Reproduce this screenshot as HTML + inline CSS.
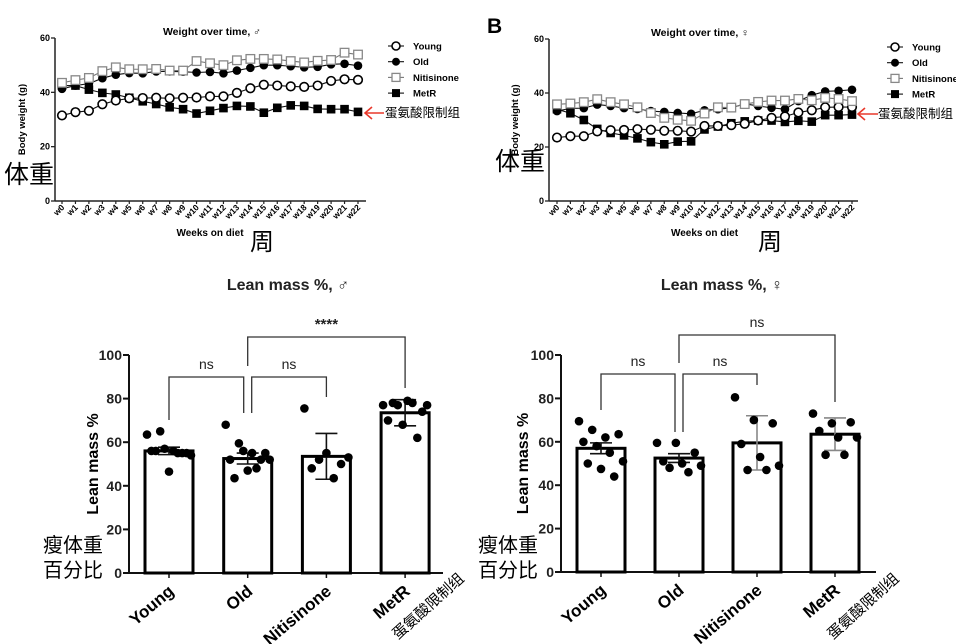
<!DOCTYPE html>
<html><head><meta charset="utf-8">
<style>
html,body{margin:0;padding:0;background:#fff;}
svg{display:block;font-family:"Liberation Sans","Noto Sans CJK SC",sans-serif;}
.b{font-weight:bold;}
</style></head>
<body>
<svg id="fig" width="956" height="644" viewBox="0 0 956 644" xmlns="http://www.w3.org/2000/svg">
<text x="487" y="33" font-size="21" class="b">B</text>
</svg>
<script>
const weeks = ["w0","w1","w2","w3","w4","w5","w6","w7","w8","w9","w10","w11","w12","w13","w14","w15","w16","w17","w18","w19","w20","w21","w22"];
const groups = ["Young","Old","Nitisinone","MetR"];
const yTicksW = [0,20,40,60];
const yTicksL = [0,20,40,60,80,100];
const mYoung = [31.5,32.7,33.2,35.6,37,37.8,37.9,38,37.8,38,38.1,38.5,38.5,39.8,41.5,42.8,42.5,42.2,42,42.5,44.2,44.8,44.6];
const mOld = [41.3,42.5,43.2,45.2,46.5,47.1,47,47.7,47.7,47.6,47.3,47.5,47,48,49,50,50,49.6,49.2,49.4,50.3,50.5,49.8];
const mNit = [43.5,44.5,45.3,47.8,49.2,48.5,48.5,48.6,48,48,51.5,50.7,50,51.8,52.3,52.3,52.1,51.5,51,51.6,51.9,54.6,53.9];
const mMetR = [42.5,42.5,41,39.8,39.2,38,36.7,35.7,34.5,33.8,32.2,33.2,34.2,35,34.8,32.5,34.3,35.2,35,33.9,33.8,33.8,32.8];
const fYoung = [23.5,24,24,25.8,26.2,26.3,26.6,26.4,26,26,25.7,27.8,27.8,28.1,28.6,29.8,30.8,31.3,32.8,33.6,34.7,34.8,34.8];
const fOld = [33.3,34.3,34.4,35.7,35.2,34.4,34.1,33.3,33,32.6,32.3,33.6,34,34.5,36,35.2,34.5,34,37,39.2,40.6,40.8,41.2];
const fNit = [35.8,36.1,36.6,37.7,36.6,35.8,34.7,32.6,30.8,30.1,29.7,32.4,34.7,34.6,35.9,36.7,37.2,37.2,37.8,37.3,38.2,37.8,37];
const fMetR = [34,32.5,30,26.7,25.2,24.3,23.2,21.8,21,22,22.1,26.5,27.6,28.8,29.5,29.8,29.8,29.3,29.7,29.4,31.8,31.8,32];
const mLeanMean = [56,52.5,53.5,73.5];
const mLeanErr = [1.7,2.5,10.5,6];
const fLeanMean = [57,52.5,59.5,63.5];
const fLeanErr = [2.5,2,12.5,7.5];
const mLeanPts = [[63.5,65,56,55,56,57,55,54,56,46.5,55],[68,59.5,55,55,52,56,48,52,43.5,47,52],[75.5,55,53,52,50,48,43.5],[77,77,78,77,78,79,74,70,68,62]];
const fLeanPts = [[69.5,65.5,62,63.5,60,58,55,51,50,47.5,44],[59.5,59.5,55,51,50,49,48,46],[80.5,70,68.5,59,53,49,47,47],[73,68.5,69,65,62,62,54,54]];

const NS="http://www.w3.org/2000/svg";
const svg=document.getElementById('fig');
function el(tag,attrs,parent){const e=document.createElementNS(NS,tag);for(const k in attrs)e.setAttribute(k,attrs[k]);(parent||svg).appendChild(e);return e;}
function txt(s,attrs,parent){const e=el('text',attrs,parent);e.textContent=s;return e;}

function marker(g,kind,x,y,r){
  let m;
  if(kind===0){m=el('circle',{cx:x,cy:y,r:r,fill:'#fff',stroke:'#000','stroke-width':1.6},g);}
  else if(kind===1){m=el('circle',{cx:x,cy:y,r:r,fill:'#000'},g);}
  else if(kind===2){m=el('rect',{x:x-r,y:y-r,width:2*r,height:2*r,fill:'#fff',stroke:'#888','stroke-width':1.3},g);}
  else {m=el('rect',{x:x-r,y:y-r,width:2*r,height:2*r,fill:'#000'},g);}
  return m;
}

function lineChart(cfg){
  const g=el('g',{});
  
  
  const X=i=>cfg.x0+(cfg.x1-cfg.x0)*i/(weeks.length-1);
  const Y=v=>cfg.yb+(cfg.yt-cfg.yb)*v/60;
  el('line',{x1:cfg.ax,y1:cfg.yt,x2:cfg.ax,y2:cfg.yb,stroke:'#222','stroke-width':1.5},g);
  el('line',{x1:cfg.ax,y1:cfg.yb,x2:cfg.xe,y2:cfg.yb,stroke:'#222','stroke-width':1.5},g);
  yTicksW.forEach(t=>{el('line',{x1:cfg.ax-4,y1:Y(t),x2:cfg.ax,y2:Y(t),stroke:'#222','stroke-width':1.3},g);
    const tt=txt(String(t),{x:cfg.ax-5,y:Y(t)+3,'font-size':9,'text-anchor':'end',class:'b'},g);
    });
  weeks.forEach((w,i)=>{el('line',{x1:X(i),y1:cfg.yb,x2:X(i),y2:cfg.yb+3,stroke:'#222','stroke-width':1.2},g);
    const tt=txt(w,{x:X(i)+3,y:cfg.yb+7,'font-size':8.5,'text-anchor':'end',class:'b',transform:`rotate(-45 ${X(i)+3} ${cfg.yb+7})`},g);
    });
  const series=[cfg.d[0],cfg.d[1],cfg.d[2],cfg.d[3]];
  series.forEach((s,k)=>{
    const p=el('polyline',{points:s.map((v,i)=>X(i)+','+Y(v)).join(' '),fill:'none',stroke:k===2?'#777':'#111','stroke-width':1.1},g);
    
    
  });
  [3,1,0,2].forEach(k=>{series[k].forEach((v,i)=>{const m=marker(g,k,X(i),Y(v),4.3);
    
    });});
  const ti=txt(cfg.title,{x:cfg.tx,y:cfg.ty,'font-size':10.5,'text-anchor':'middle',class:'b'},g);
  
  const yl=txt('Body weight (g)',{x:0,y:0,'font-size':9.5,'text-anchor':'middle',class:'b',transform:`translate(${cfg.ylx},${(cfg.yt+cfg.yb)/2}) rotate(-90)`},g);
  
  const xl=txt('Weeks on diet',{x:(cfg.x0+cfg.x1)/2,y:236,'font-size':10,'text-anchor':'middle',class:'b'},g);
  
  groups.forEach((gname,k)=>{
    const ly=cfg.ly+k*15.7;
    const lg=el('g',{},g);
    
    
    el('line',{x1:cfg.lx-8,y1:ly,x2:cfg.lx+8,y2:ly,stroke:k===2?'#777':'#111','stroke-width':1.1},lg);
    marker(lg,k,cfg.lx,ly,4);
    txt(gname,{x:cfg.lx+17,y:ly+3.5,'font-size':9.5,class:'b'},lg);
  });
}
lineChart({name:'weight-chart-male',ax:55,x0:62,x1:358,xe:366,yt:38,yb:201,title:'Weight over time, ♂',tx:212,ty:35,ylx:25,lx:396,ly:46,d:[mYoung,mOld,mNit,mMetR]});
lineChart({name:'weight-chart-female',ax:549,x0:557,x1:852,xe:858,yt:39,yb:201,title:'Weight over time, ♀',tx:700,ty:36,ylx:518,lx:895,ly:47,d:[fYoung,fOld,fNit,fMetR]});

function barChart(cfg){
  const g=el('g',{});
  
  
  const Y=v=>cfg.yb+(cfg.yt-cfg.yb)*v/100;
  const X=i=>cfg.cx[0]+(cfg.cx[1]-cfg.cx[0])*i;
  el('line',{x1:cfg.ax,y1:cfg.yt,x2:cfg.ax,y2:cfg.yb,stroke:'#111','stroke-width':2},g);
  el('line',{x1:cfg.ax,y1:cfg.yb,x2:cfg.xe,y2:cfg.yb,stroke:'#111','stroke-width':2},g);
  yTicksL.forEach(t=>{el('line',{x1:cfg.ax-6,y1:Y(t),x2:cfg.ax,y2:Y(t),stroke:'#111','stroke-width':2},g);
    const tt=txt(String(t),{x:cfg.ax-7,y:Y(t)+5,'font-size':14,'text-anchor':'end',class:'b',fill:'#222'},g);
    });
  groups.forEach((gn,i)=>{
    const x=X(i);
    el('line',{x1:x,y1:cfg.yb,x2:x,y2:cfg.yb+5,stroke:'#111','stroke-width':1.5},g);
    const b=el('rect',{x:x-24,y:Y(cfg.mean[i]),width:48,height:Y(0)-Y(cfg.mean[i]),fill:'#fff',stroke:'#000','stroke-width':3},g);
    
    
    const ec=(cfg.grayErr && i>=2)?'#888':'#111';
    const e1=Y(cfg.mean[i]+cfg.err[i]),e2=Y(cfg.mean[i]-cfg.err[i]);
    const eb=el('path',{d:`M${x},${e1}V${e2}M${x-11},${e1}H${x+11}M${x-11},${e2}H${x+11}`,stroke:ec,'stroke-width':1.6,fill:'none'},g);
    
    
    const pts=cfg.pts[i];
    const n=pts.length;
    pts.forEach((v,j)=>{
      const slot=(j*3)%n;
      const off=n>1?-22+44*slot/(n-1):0;
      const d=el('circle',{cx:x+off,cy:Y(v),r:4.3,fill:'#000'},g);
      
      
    });
    const lab=txt(gn,{x:x+6,y:cfg.yb+20,'font-size':17,'text-anchor':'end',class:'b',transform:`rotate(-40 ${x+6} ${cfg.yb+20})`},g);
    
  });
  cfg.br.forEach(b=>{
    const xa=X(b[0])+b[6], xb=X(b[1])+b[7];
    const p=el('path',{d:`M${xa},${b[3]}V${b[2]}H${xb}V${b[4]}`,fill:'none',stroke:'#333','stroke-width':1.3},g);
    
    const t=txt(b[5],{x:(xa+xb)/2,y:b[2]-8,'font-size':b[5]==='****'?15:14,'text-anchor':'middle',class:b[5]==='****'?'b':'',fill:'#222'},g);
    
  });
  const ti=txt(cfg.title,{x:cfg.tx,y:290,'font-size':16,'text-anchor':'middle',class:'b',fill:'#222'},g);
  
  const yl=txt('Lean mass %',{x:0,y:0,'font-size':16,'text-anchor':'middle',class:'b',transform:`translate(${cfg.ylx},${(cfg.yt+cfg.yb)/2}) rotate(-90)`},g);
  
}
barChart({name:'lean-mass-male',ax:129,yt:355,yb:573,xe:443,cx:[169,247.7],mean:mLeanMean,err:mLeanErr,pts:mLeanPts,grayErr:false,title:'Lean mass %, ♂',tx:288,ylx:98,
  br:[[0,1,377,420,413,'ns',0,-4],[1,2,377,413,397,'ns',4,0],[1,3,337,366,388,'****',0,0]]});
barChart({name:'lean-mass-female',ax:561,yt:355,yb:572,xe:876,cx:[601,679],mean:fLeanMean,err:fLeanErr,pts:fLeanPts,grayErr:true,title:'Lean mass %, ♀',tx:722,ylx:528,
  br:[[0,1,374,410,432,'ns',0,-4],[1,2,374,432,385,'ns',4,0],[1,3,335,363,402,'ns',0,0]]});
</script>
<script>
(function(){
const NS="http://www.w3.org/2000/svg";
const svg=document.getElementById('fig');
function t(s,a,name){const e=document.createElementNS(NS,'text');for(const k in a)e.setAttribute(k,a[k]);e.textContent=s;
  svg.appendChild(e);}
t('体重',{x:4,y:183,'font-size':25},'annotation-body-weight');
t('周',{x:250,y:250,'font-size':24},'annotation-week');
t('体重',{x:495,y:170,'font-size':25},'annotation-body-weight-f');
t('周',{x:758,y:250,'font-size':24},'annotation-week-f');
t('蛋氨酸限制组',{x:385,y:117,'font-size':12.5},'annotation-metr');
t('蛋氨酸限制组',{x:878,y:118,'font-size':12.5},'annotation-metr-f');
t('瘦体重',{x:43,y:552,'font-size':20},'annotation-lean');
t('百分比',{x:43,y:577,'font-size':20},'annotation-percent');
t('瘦体重',{x:478,y:552,'font-size':20},'annotation-lean-f');
t('百分比',{x:478,y:577,'font-size':20},'annotation-percent-f');
t('蛋氨酸限制组',{x:398,y:640,'font-size':15,transform:'rotate(-42 398 640)'},'annotation-metr-x');
t('蛋氨酸限制组',{x:833,y:640,'font-size':15,transform:'rotate(-42 833 640)'},'annotation-metr-x-f');
function arrow(x1,x2,y,name){const p=document.createElementNS(NS,'path');
  p.setAttribute('d',`M${x1},${y}H${x2}M${x2+7},${y-6}L${x2},${y}L${x2+7},${y+6}`);
  p.setAttribute('stroke','#e8382b');p.setAttribute('stroke-width','1.6');p.setAttribute('fill','none');
  svg.appendChild(p);}
arrow(384,365,113,'red-arrow-male');
arrow(878,858,114,'red-arrow-female');
})();
</script>
</body></html>
